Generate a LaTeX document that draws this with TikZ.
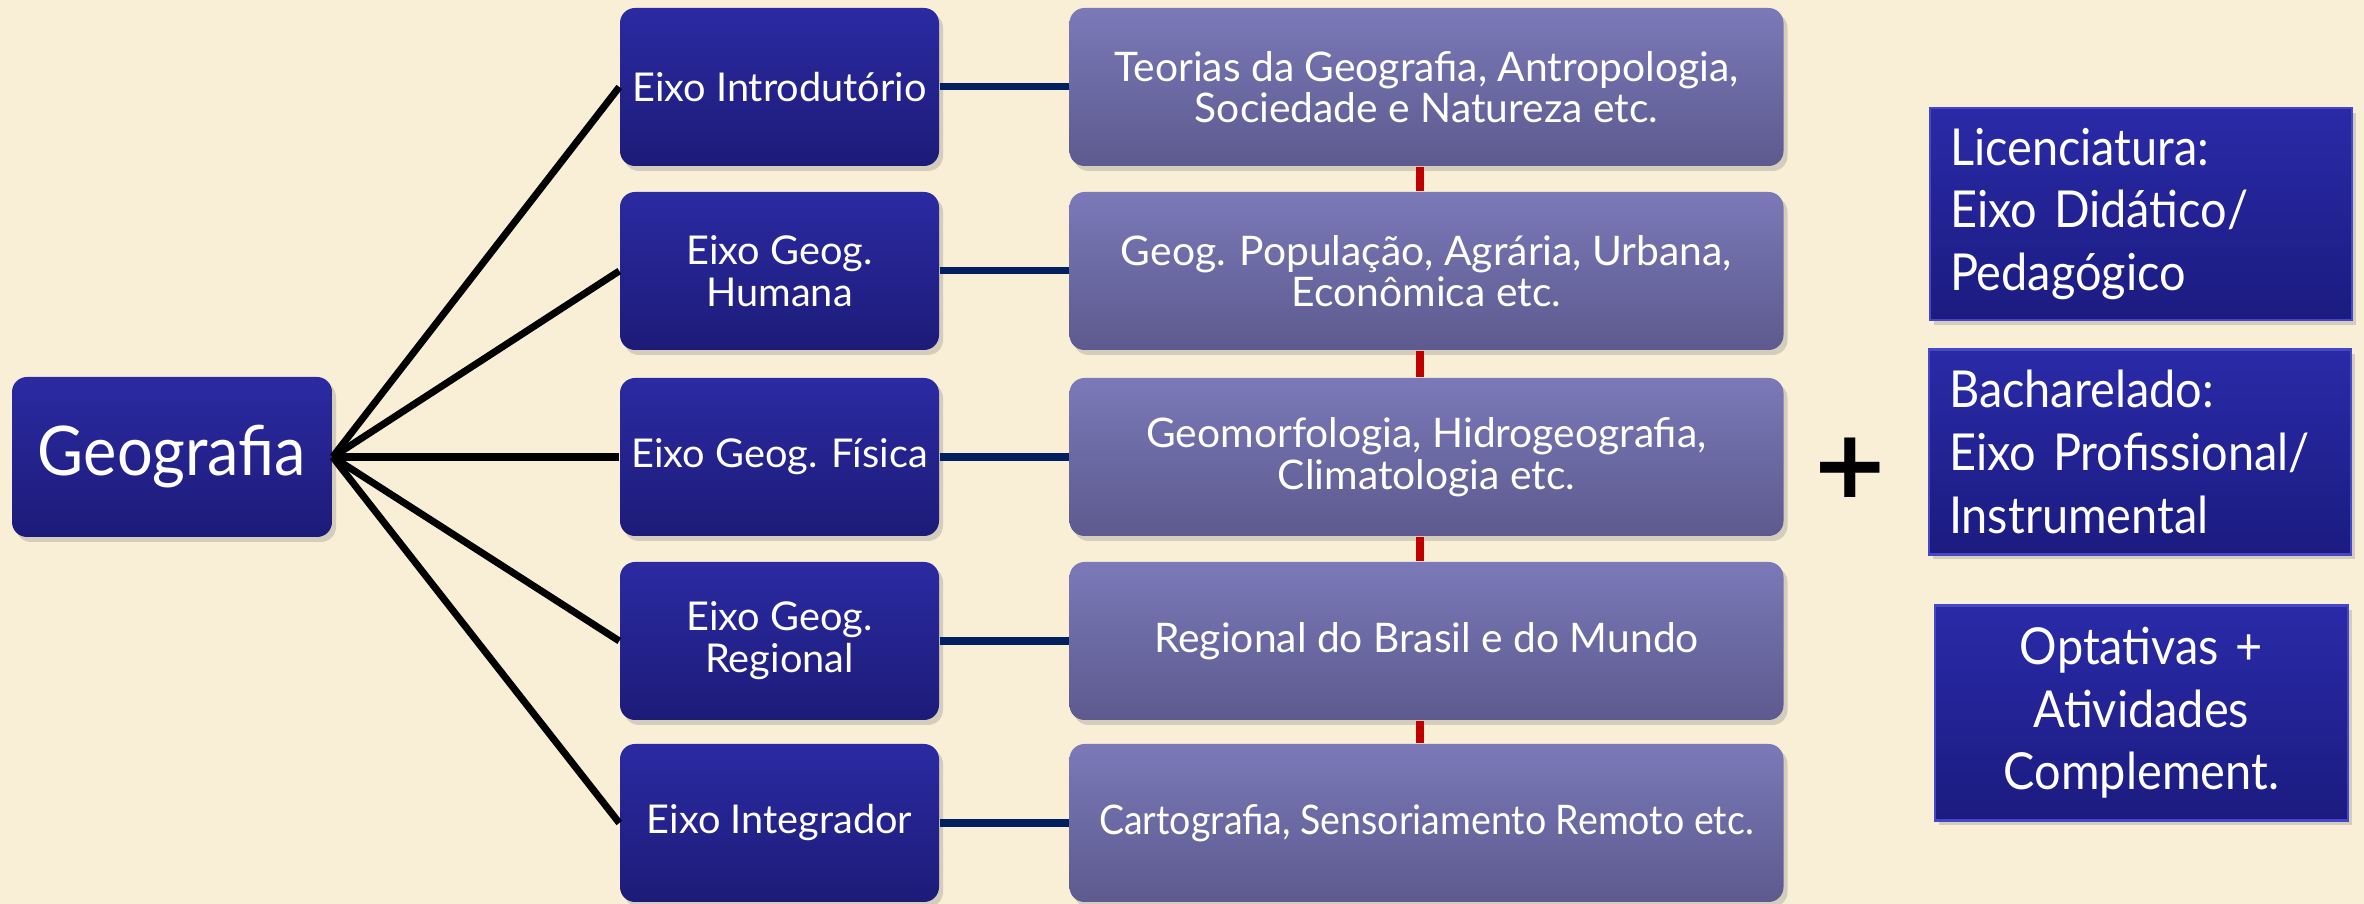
\documentclass[tikz,border=0pt]{standalone}
\usepackage{fontspec}
\setmainfont{Lato}
\newfontfamily\narrowfont[FakeStretch=0.92]{Lato}
\usetikzlibrary{shadows}

\definecolor{bgcream}{RGB}{249,239,214}
\definecolor{axistop}{RGB}{43,42,162}
\definecolor{axisbot}{RGB}{29,27,120}
\definecolor{subjtop}{RGB}{123,121,184}
\definecolor{subjbot}{RGB}{92,90,142}
\definecolor{linknavy}{RGB}{0,32,96}
\definecolor{linkred}{RGB}{192,0,0}
\definecolor{degtop}{RGB}{42,42,168}
\definecolor{degbot}{RGB}{27,27,128}
\definecolor{degedge}{RGB}{70,70,200}

\begin{document}
\begin{tikzpicture}[
        boxshadow/.style = {drop shadow = {opacity = 0.3, shadow xshift = 0.04cm, shadow yshift = -0.05cm}},
        axisbox/.style = {rounded corners = 0.15cm, top color = axistop, bottom color = axisbot, text = white,
                minimum width = 3.19cm, minimum height = 1.58cm, align = center, inner sep = 0pt,
                font = \fontsize{11.3}{12}\selectfont, boxshadow},
        mainbox/.style = {axisbox, minimum width = 3.2cm, minimum height = 1.6cm,
                font = \narrowfont\fontsize{19.5}{21}\selectfont},
        subjbox/.style = {axisbox, top color = subjtop, bottom color = subjbot, minimum width = 7.14cm,
                font = \fontsize{11.6}{11.8}\selectfont},
        degbox/.style = {top color = degtop, bottom color = degbot, draw = degedge, line width = 0.6pt,
                text = white, text width = 3.82cm, inner xsep = 0.2cm, minimum height = 2.12cm,
                font = \narrowfont\fontsize{14.5}{17.8}\selectfont, boxshadow},
        fanline/.style = {line width = 2pt, black},
        navylink/.style = {line width = 2pt, linknavy},
        redlink/.style = {line width = 2.4pt, linkred}
]
        \useasboundingbox (0,0) rectangle (23.64,9.04);
        \fill [bgcream] (0,0) rectangle (23.64,9.04);

        % left: root and the five axes
        \node [mainbox] (geo) at (1.72,4.47) {Geografia};

        \node [axisbox] (intro) at (7.795,8.17) {Eixo Introdutório};
        \node [axisbox] (human) at (7.795,6.33) {Eixo Geog.\\Humana};
        \node [axisbox] (phys) at (7.795,4.47) {Eixo Geog. Física};
        \node [axisbox] (region) at (7.795,2.63) {Eixo Geog.\\Regional};
        \node [axisbox] (integ) at (7.795,0.81) {Eixo Integrador};

        \draw [fanline] (geo.east) -- (intro.west);
        \draw [fanline] (geo.east) -- (human.west);
        \draw [fanline] (geo.east) -- (phys.west);
        \draw [fanline] (geo.east) -- (region.west);
        \draw [fanline] (geo.east) -- (integ.west);

        % middle: subjects of each axis
        \node [subjbox] (theory) at (14.265,8.17) {Teorias da Geografia, Antropologia,\\Sociedade e Natureza etc.};
        \node [subjbox] (popul) at (14.265,6.33) {Geog. População, Agrária, Urbana,\\Econômica etc.};
        \node [subjbox] (geomorph) at (14.265,4.47) {Geomorfologia, Hidrogeografia,\\Climatologia etc.};
        \node [subjbox] (brasil) at (14.265,2.63) {Regional do Brasil e do Mundo};
        \node [subjbox, font = \narrowfont\fontsize{11.6}{11.8}\selectfont] (carto) at (14.265,0.81) {Cartografia, Sensoriamento Remoto etc.};

        \draw [navylink] (intro.east) -- (theory.west);
        \draw [navylink] (human.east) -- (popul.west);
        \draw [navylink] (phys.east) -- (geomorph.west);
        \draw [navylink] (region.east) -- (brasil.west);
        \draw [navylink] (integ.east) -- (carto.west);

        \draw [redlink] ([xshift=-0.065cm]theory.south) -- ([xshift=-0.065cm]popul.north);
        \draw [redlink] ([xshift=-0.065cm]popul.south) -- ([xshift=-0.065cm]geomorph.north);
        \draw [redlink] ([xshift=-0.065cm]geomorph.south) -- ([xshift=-0.065cm]brasil.north);
        \draw [redlink] ([xshift=-0.065cm]brasil.south) -- ([xshift=-0.065cm]carto.north);

        % right: the plus and the degree boxes
        \node [font = \fontspec{DejaVu Sans}\bfseries\fontsize{27}{27}\selectfont] (plus) at (18.50,4.36) {+};

        \node [degbox, align = left] (lic) at (21.41,6.90) {Licenciatura:\\Eixo Didático/\\Pedagógico};
        \node [degbox, align = left, minimum height = 2.05cm] (bach) at (21.40,4.52) {Bacharelado:\\Eixo Profissional/\\Instrumental};
        \node [degbox, align = center, text width = 3.73cm, minimum height = 2.15cm] (opt) at (21.415,1.91) {Optativas +\\Atividades\\Complement.};
\end{tikzpicture}
\end{document}
